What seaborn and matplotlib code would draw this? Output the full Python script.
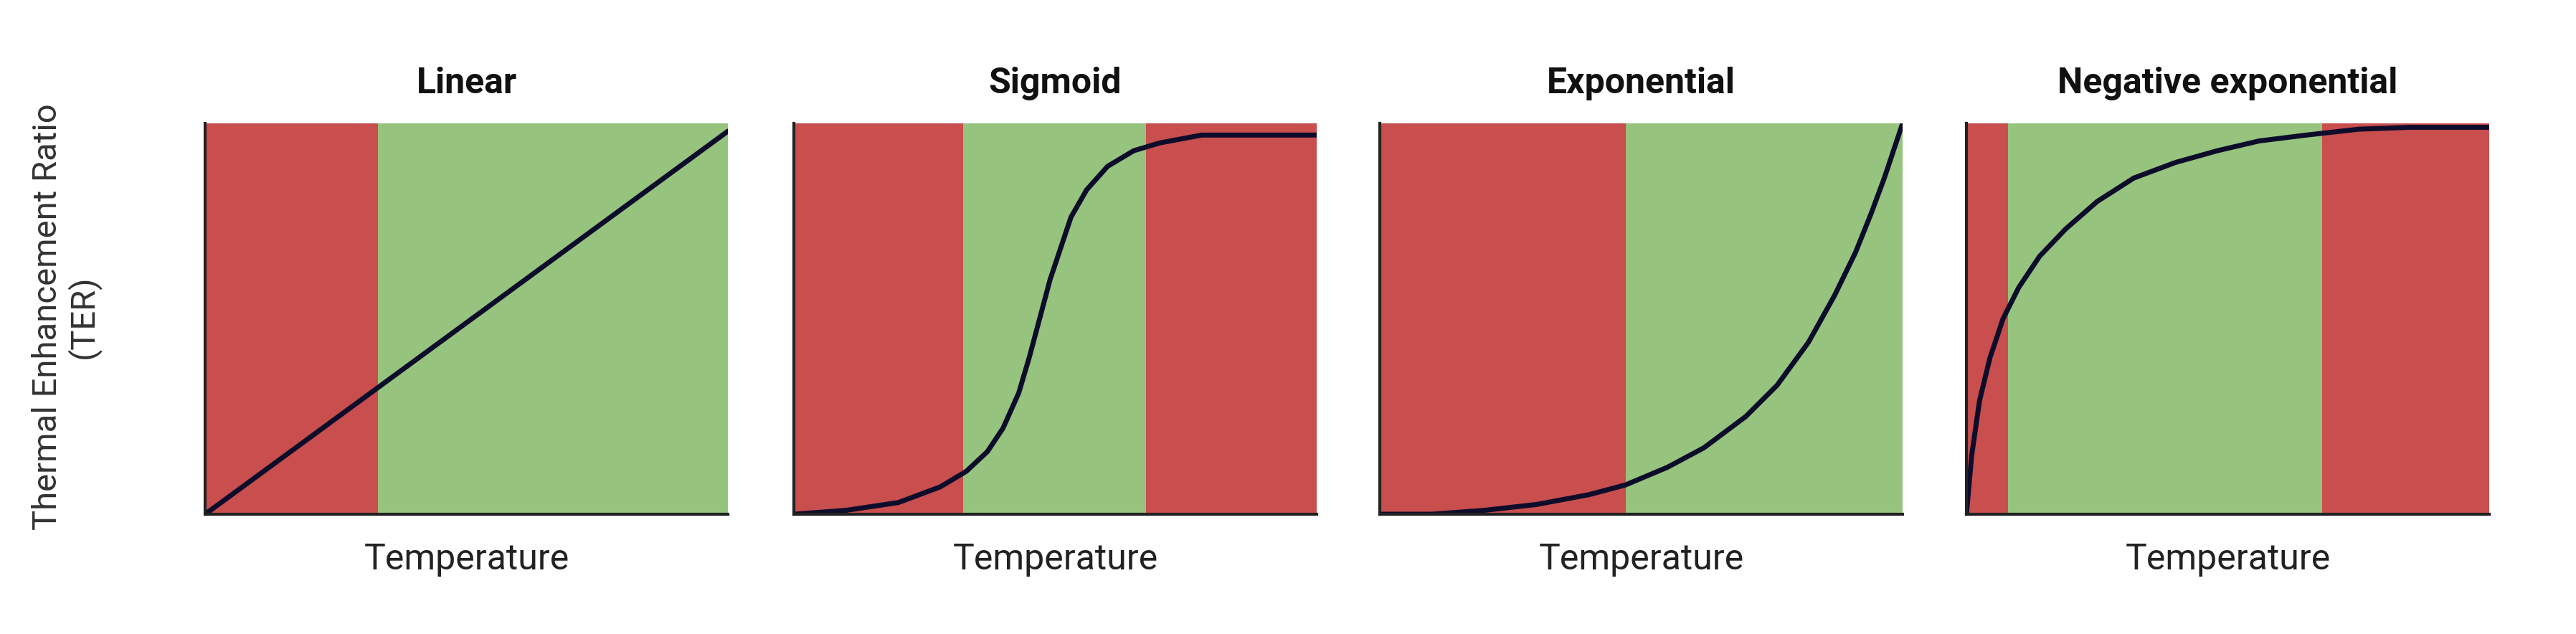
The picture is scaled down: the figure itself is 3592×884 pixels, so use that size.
import matplotlib
matplotlib.use("Agg")
import matplotlib.pyplot as plt
import seaborn as sns
import pandas as pd

# panel titles
titles = ["Linear", "Sigmoid", "Exponential", "Negative exponential"]

# curve points (x = temperature, y = TER, both 0..1)
linear_x = [0.0, 1.0]
linear_y = [0.0, 0.98]

sigmoid_x = [0.0, 0.1, 0.2, 0.28, 0.33, 0.37, 0.40, 0.43, 0.45, 0.47, 0.49, 0.51, 0.53, 0.56, 0.60, 0.65, 0.70, 0.78, 0.88, 1.0]
sigmoid_y = [0.0, 0.01, 0.03, 0.07, 0.11, 0.16, 0.22, 0.31, 0.40, 0.50, 0.60, 0.68, 0.76, 0.83, 0.89, 0.93, 0.95, 0.97, 0.97, 0.97]

expo_x = [0.0, 0.1, 0.2, 0.3, 0.4, 0.47, 0.55, 0.62, 0.70, 0.76, 0.82, 0.87, 0.91, 0.94, 0.965, 0.985, 1.0]
expo_y = [0.0, 0.0, 0.01, 0.025, 0.05, 0.075, 0.12, 0.17, 0.25, 0.33, 0.44, 0.56, 0.67, 0.77, 0.86, 0.94, 1.0]

negexp_x = [0.0, 0.01, 0.025, 0.045, 0.07, 0.10, 0.14, 0.19, 0.25, 0.32, 0.40, 0.48, 0.56, 0.65, 0.75, 0.85, 1.0]
negexp_y = [0.0, 0.15, 0.29, 0.40, 0.50, 0.58, 0.66, 0.73, 0.80, 0.86, 0.90, 0.93, 0.955, 0.97, 0.985, 0.99, 0.99]

curves = [(linear_x, linear_y), (sigmoid_x, sigmoid_y), (expo_x, expo_y), (negexp_x, negexp_y)]

# background bands per panel: (start, end, zone)
bands = [
    [(0.0, 0.33, "bad"), (0.33, 1.0, "good")],
    [(0.0, 0.324, "bad"), (0.324, 0.673, "good"), (0.673, 1.0, "bad")],
    [(0.0, 0.47, "bad"), (0.47, 1.0, "good")],
    [(0.0, 0.079, "bad"), (0.079, 0.68, "good"), (0.68, 1.0, "bad")],
]
zone_colors = {"bad": "#C94E4E", "good": "#96C47E"}

sns.set_style("white")
plt.rcParams['font.family'] = ['Roboto', 'DejaVu Sans']

fig = plt.figure(figsize=(35.92, 8.84), dpi=100)
lefts = [286, 1107, 1924, 2742]
w, bottom, top = 729, 717, 172
W, H = 3592, 884

for i in range(4):
    ax = fig.add_axes([lefts[i] / W, 1 - bottom / H, w / W, (bottom - top) / H])
    for s, e, z in bands[i]:
        ax.axvspan(s, e, color=zone_colors[z], lw=0)
    df = pd.DataFrame({"x": curves[i][0], "y": curves[i][1]})
    sns.lineplot(data=df, x="x", y="y", ax=ax, color="#0D0D2B", lw=5, sort=False)
    ax.set_xlim(0, 1)
    ax.set_ylim(0, 1)
    ax.set_xticks([])
    ax.set_yticks([])
    ax.set_ylabel("")
    ax.set_xlabel("Temperature", fontsize=36, labelpad=28, color="#222222")
    ax.set_title(titles[i], fontsize=36, fontweight="bold", pad=30, color="#111111")
    for side in ["top", "right"]:
        ax.spines[side].set_visible(False)
    for side in ["left", "bottom"]:
        ax.spines[side].set_color("#222222")
        ax.spines[side].set_linewidth(3)

fig.text(92 / W, 0.5, "Thermal Enhancement Ratio\n(TER)", rotation=90, ha="center", va="center",
         fontsize=34, color="#333333", linespacing=1.1)

fig.savefig("out.png", dpi=100)
